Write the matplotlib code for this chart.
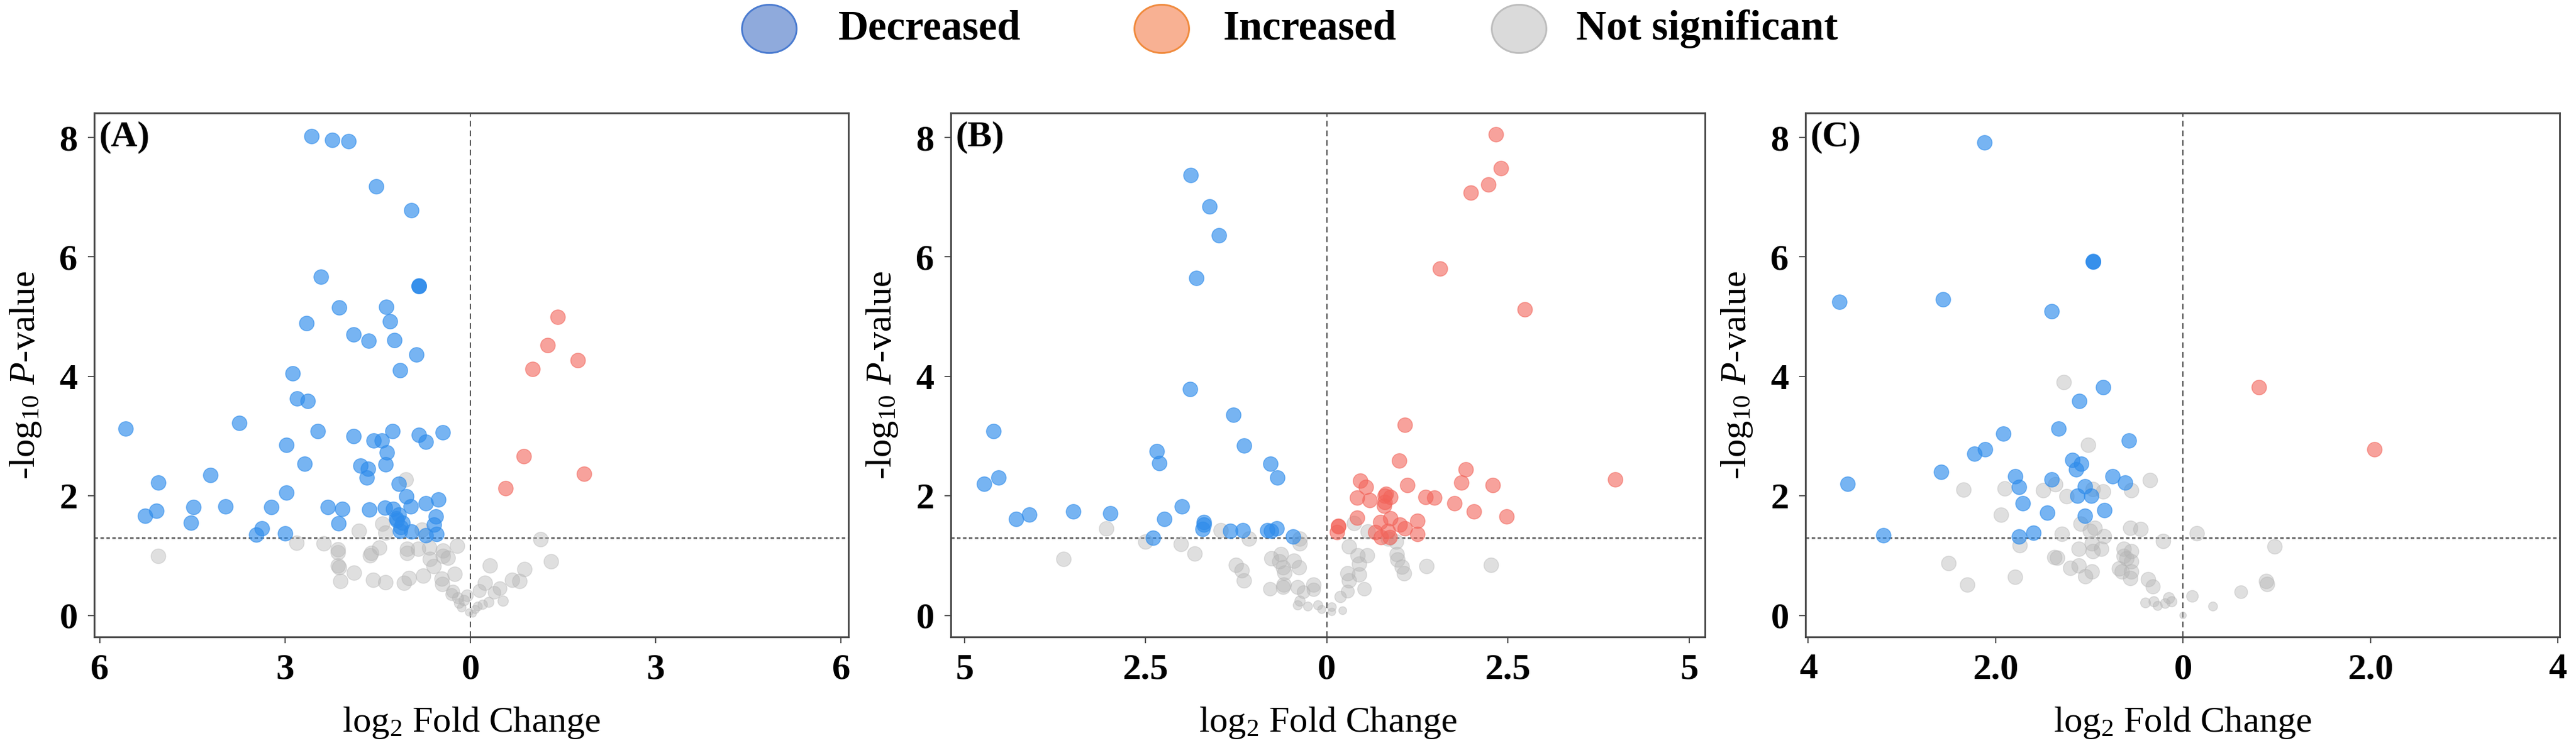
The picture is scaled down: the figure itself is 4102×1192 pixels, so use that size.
import numpy as np
import matplotlib
matplotlib.use("Agg")
import matplotlib.pyplot as plt
from matplotlib.patches import Ellipse

plt.rcParams['font.family'] = ['Liberation Serif', 'DejaVu Serif']
plt.rcParams['mathtext.fontset'] = 'custom'
plt.rcParams['mathtext.rm'] = 'Liberation Serif'
plt.rcParams['mathtext.it'] = 'Liberation Serif:italic'
plt.rcParams['mathtext.bf'] = 'Liberation Serif:bold'

# ---- data: (log2 fold change, -log10 p) ----
a_down = [(-2.57, 8.02), (-2.24, 7.96), (-1.97, 7.94), (-1.53, 7.18), (-0.96, 6.78), (-2.42, 5.67),
          (-0.83, 5.51), (-0.83, 5.51), (-0.83, 5.52), (-2.12, 5.15), (-1.36, 5.16), (-2.65, 4.89),
          (-1.30, 4.92), (-1.89, 4.70), (-1.65, 4.60), (-1.23, 4.61), (-0.87, 4.37), (-1.14, 4.10),
          (-2.88, 4.05), (-2.81, 3.63), (-2.63, 3.59), (-5.58, 3.13), (-3.74, 3.22), (-2.47, 3.08),
          (-1.89, 3.00), (-1.57, 2.93), (-1.43, 2.93), (-1.26, 3.08), (-0.83, 3.02), (-0.72, 2.91),
          (-0.45, 3.06), (-2.98, 2.85), (-1.35, 2.73), (-2.68, 2.54), (-1.78, 2.51), (-1.66, 2.46),
          (-1.37, 2.53), (-1.68, 2.31), (-4.21, 2.35), (-5.05, 2.22), (-1.16, 2.20), (-2.98, 2.06),
          (-1.04, 1.99), (-0.52, 1.94), (-0.72, 1.88), (-5.27, 1.67), (-5.08, 1.75), (-4.48, 1.81),
          (-4.52, 1.55), (-3.97, 1.82), (-3.22, 1.81), (-2.31, 1.81), (-2.07, 1.78), (-2.14, 1.54),
          (-1.64, 1.77), (-1.38, 1.80), (-1.25, 1.78), (-1.16, 1.69), (-1.19, 1.59), (-1.13, 1.48),
          (-0.97, 1.82), (-0.56, 1.66), (-0.59, 1.52), (-0.96, 1.40), (-3.38, 1.46), (-3.47, 1.35),
          (-3.00, 1.37), (-0.72, 1.34), (-0.55, 1.36), (-1.14, 1.42), (-1.20, 1.62), (-1.10, 1.55)]
a_up = [(1.41, 5.00), (1.25, 4.52), (1.74, 4.27), (1.01, 4.13), (0.86, 2.66), (1.84, 2.37), (0.57, 2.13)]
a_ns = [(-1.04, 2.27), (-5.05, 0.99), (-2.81, 1.21), (-2.37, 1.20), (-2.14, 1.10), (-2.14, 1.05),
        (-2.14, 0.83), (-2.12, 0.80), (-1.88, 0.71), (-2.10, 0.57), (-1.57, 0.59), (-1.37, 0.55),
        (-1.07, 0.54), (-0.99, 0.62), (-0.76, 0.66), (-1.60, 1.04), (-1.62, 1.00), (-1.47, 1.13),
        (-1.42, 1.53), (-1.80, 1.41), (-1.37, 1.38), (-1.02, 1.11), (-1.02, 1.04), (-0.84, 1.11),
        (-0.66, 1.13), (-0.78, 1.43), (-0.65, 0.94), (-0.59, 0.82), (-0.44, 1.08), (-0.44, 0.99),
        (-0.36, 0.96), (-0.21, 1.16), (-0.46, 0.61), (-0.45, 0.52), (-0.25, 0.69), (-0.28, 0.40),
        (-0.20, 0.29), (-0.14, 0.13), (-0.05, 0.33), (0.04, 0.03), (0.12, 0.15), (0.15, 0.41),
        (0.24, 0.54), (0.30, 0.22), (0.39, 0.38), (0.48, 0.45), (0.53, 0.24), (0.32, 0.83),
        (0.68, 0.59), (0.80, 0.57), (0.88, 0.77), (1.14, 1.27), (1.31, 0.90), (-0.18, 0.20),
        (0.08, 0.10), (-0.10, 0.25), (0.20, 0.18), (-0.30, 0.35), (-0.02, 0.05)]

b_down = [(-1.88, 7.37), (-1.62, 6.85), (-1.49, 6.36), (-1.80, 5.65), (-1.89, 3.79), (-1.29, 3.36),
          (-4.60, 3.08), (-1.14, 2.84), (-2.35, 2.75), (-2.31, 2.55), (-0.78, 2.54), (-0.68, 2.31),
          (-4.53, 2.31), (-4.73, 2.20), (-2.00, 1.82), (-3.50, 1.74), (-2.99, 1.71), (-4.11, 1.69),
          (-4.29, 1.61), (-2.24, 1.61), (-1.70, 1.56), (-1.71, 1.45), (-1.33, 1.41), (-1.16, 1.43),
          (-0.82, 1.43), (-0.69, 1.46), (-0.77, 1.42), (-0.47, 1.32), (-2.40, 1.30), (-1.70, 1.52)]
b_up = [(2.33, 8.05), (2.40, 7.49), (2.23, 7.21), (1.99, 7.08), (1.56, 5.81), (2.73, 5.12),
        (1.08, 3.19), (1.00, 2.59), (1.92, 2.44), (0.46, 2.26), (0.54, 2.15), (1.11, 2.18),
        (1.86, 2.22), (2.29, 2.18), (3.98, 2.28), (0.42, 1.97), (0.59, 1.93), (0.82, 2.03),
        (0.88, 1.98), (0.79, 1.84), (1.36, 1.98), (1.48, 1.97), (1.76, 1.88), (2.03, 1.74),
        (2.48, 1.66), (0.42, 1.64), (0.74, 1.56), (0.88, 1.62), (1.01, 1.52), (1.08, 1.46),
        (1.25, 1.58), (0.16, 1.49), (0.16, 1.50), (0.14, 1.39), (0.67, 1.39), (0.84, 1.42),
        (1.25, 1.36), (0.75, 1.31), (0.87, 1.31), (0.80, 1.90), (0.80, 2.00)]
b_ns = [(-3.04, 1.45), (-3.63, 0.94), (-2.50, 1.23), (-2.01, 1.19), (-1.82, 1.03), (-1.46, 1.42),
        (-1.07, 1.28), (-1.25, 0.84), (-1.17, 0.75), (-1.14, 0.58), (-0.76, 0.95), (-0.63, 1.02),
        (-0.65, 0.90), (-0.60, 0.80), (-0.58, 0.71), (-0.45, 0.91), (-0.38, 0.80), (-0.37, 1.28),
        (-0.37, 1.20), (-0.78, 0.44), (-0.59, 0.51), (-0.60, 0.47), (-0.40, 0.47), (-0.32, 0.39),
        (-0.18, 0.51), (-0.18, 0.43), (-0.37, 0.24), (-0.40, 0.17), (-0.26, 0.15), (-0.12, 0.17),
        (-0.07, 0.10), (0.07, 0.14), (0.07, 0.06), (0.22, 0.08), (0.19, 0.31), (0.29, 0.40),
        (0.31, 0.58), (0.29, 0.70), (0.45, 0.68), (0.45, 0.86), (0.43, 1.00), (0.56, 1.00),
        (0.31, 1.15), (0.38, 1.54), (0.57, 1.40), (0.52, 0.44), (0.97, 1.02), (0.98, 0.93),
        (0.96, 1.23), (1.04, 0.81), (1.07, 0.70), (1.38, 0.82), (2.27, 0.84), (0.85, 1.28)]

c_down = [(-2.12, 7.92), (-0.96, 5.92), (-0.96, 5.92), (-0.96, 5.93), (-3.67, 5.25), (-2.56, 5.29),
          (-1.40, 5.09), (-0.85, 3.82), (-1.11, 3.59), (-1.33, 3.13), (-1.92, 3.04), (-0.58, 2.93),
          (-2.11, 2.78), (-2.23, 2.71), (-1.18, 2.60), (-1.09, 2.54), (-1.14, 2.44), (-2.58, 2.40),
          (-0.75, 2.33), (-1.79, 2.33), (-1.40, 2.28), (-0.62, 2.22), (-3.58, 2.20), (-1.75, 2.15),
          (-1.05, 2.16), (-1.13, 2.00), (-0.98, 2.00), (-1.71, 1.88), (-0.84, 1.76), (-1.45, 1.72),
          (-1.05, 1.67), (-1.60, 1.38), (-1.75, 1.32), (-3.20, 1.34)]
c_up = [(0.81, 3.82), (2.04, 2.78)]
c_ns = [(-1.27, 3.90), (-1.01, 2.85), (-0.35, 2.26), (-2.34, 2.10), (-1.90, 2.12), (-1.49, 2.09),
        (-1.36, 2.19), (-1.24, 1.99), (-0.96, 2.11), (-0.85, 2.07), (-0.55, 2.09), (-1.94, 1.68),
        (-1.09, 1.53), (-0.99, 1.41), (-0.94, 1.46), (-0.56, 1.46), (-0.45, 1.44), (-1.29, 1.36),
        (-0.84, 1.32), (-0.21, 1.24), (0.15, 1.37), (0.98, 1.15), (-1.74, 1.17), (-1.11, 1.11),
        (-0.97, 1.20), (-0.96, 1.07), (-0.87, 1.11), (-0.63, 1.11), (-0.55, 1.07), (-0.63, 0.99),
        (-0.55, 0.90), (-0.60, 0.95), (-1.37, 0.97), (-1.34, 0.96), (-2.50, 0.87), (-1.20, 0.79),
        (-1.11, 0.83), (-0.97, 0.73), (-1.04, 0.65), (-0.68, 0.78), (-0.65, 0.73), (-0.55, 0.73),
        (-0.56, 0.62), (-1.79, 0.64), (-2.30, 0.51), (-0.37, 0.60), (-0.32, 0.48), (-0.40, 0.21),
        (-0.31, 0.23), (-0.27, 0.16), (-0.19, 0.20), (-0.15, 0.29), (-0.12, 0.23), (0.00, 0.00),
        (0.10, 0.32), (0.32, 0.15), (0.62, 0.39), (0.89, 0.57), (0.90, 0.52)]

panel_names = ['(A)', '(B)', '(C)']
x_ticks = [[-6, -3, 0, 3, 6], [-5, -2.5, 0, 2.5, 5], [-4, -2, 0, 2, 4]]
x_ticklabels = [['6', '3', '0', '3', '6'], ['5', '2.5', '0', '2.5', '5'], ['4', '2.0', '0', '2.0', '4']]
x_limits = [(-6.09, 6.12), (-5.19, 5.22), (-4.03, 4.02)]
y_ticks = [0, 2, 4, 6, 8]
p_cut = 1.3
legend_labels = ['Decreased', 'Increased', 'Not significant']

# ---- style ----
c_down_col = '#2F8CEB'
c_up_col = '#F2645A'
c_ns_col = '#B4B4B4'
leg_fill = ['#8FAADC', '#F8B193', '#DADADA']
leg_edge = ['#4A7BD0', '#F08A3C', '#BDBDBD']
base_s = 280

W, H = 4102, 1192
fig = plt.figure(figsize=(W / 100, H / 100), dpi=100)

ax_left = [150, 1514, 2875]
ax_w = 1201
ax_bottom, ax_top = 1015, 180

panels = [(a_down, a_up, a_ns), (b_down, b_up, b_ns), (c_down, c_up, c_ns)]

for i, (dn, up, ns) in enumerate(panels):
    ax = fig.add_axes([ax_left[i] / W, (H - ax_bottom) / H, ax_w / W, (ax_bottom - ax_top) / H])
    ns = np.array(ns)
    dn = np.array(dn)
    up = np.array(up)
    # grey dots shrink close to the origin
    f = np.clip(0.45 + 1.1 * ns[:, 1], 0.45, 1.0)
    ax.scatter(ns[:, 0], ns[:, 1], s=base_s * f ** 2, color=c_ns_col, alpha=0.42,
               edgecolors=c_ns_col, linewidths=1, zorder=2)
    ax.scatter(dn[:, 0], dn[:, 1], s=base_s, color=c_down_col, alpha=0.65,
               edgecolors=c_down_col, linewidths=1, zorder=3)
    ax.scatter(up[:, 0], up[:, 1], s=base_s, color=c_up_col, alpha=0.6,
               edgecolors=c_up_col, linewidths=1, zorder=3)

    ax.axvline(0, color='#444444', lw=1.3, ls=(0, (5, 3.5)), zorder=1)
    ax.axhline(p_cut, color='#666666', lw=2.0, ls=(0, (2, 1.4)), zorder=1)

    ax.set_xlim(*x_limits[i])
    ax.set_ylim(-0.36, 8.41)
    ax.set_xticks(x_ticks[i])
    ax.set_xticklabels(x_ticklabels[i])
    ax.set_yticks(y_ticks)
    ax.tick_params(axis='both', direction='out', length=7, width=1.3, color='#444444',
                   labelsize=42, pad=12)
    for lab in ax.get_xticklabels() + ax.get_yticklabels():
        lab.set_fontweight('bold')
    for sp in ax.spines.values():
        sp.set_color('#444444')
        sp.set_linewidth(2)

    ax.set_xlabel('log$_2$ Fold Change', fontsize=42, labelpad=22)
    ax.set_ylabel('-log$_{10}$ $P$-value', fontsize=42, labelpad=18)
    ax.text(0.006, 0.985, panel_names[i], transform=ax.transAxes, ha='left', va='top',
            fontsize=42, fontweight='bold')

# ---- legend across the top ----
leg_cx = [1225, 1850, 2419]
leg_tx = [1335, 1948, 2510]
leg_y = 46
for cx, tx, lab, fc, ec in zip(leg_cx, leg_tx, legend_labels, leg_fill, leg_edge):
    fig.add_artist(Ellipse((cx / W, 1 - leg_y / H), 87 / W, 77 / H, transform=fig.transFigure,
                           facecolor=fc, edgecolor=ec, lw=2))
    fig.text(tx / W, 1 - leg_y / H, lab, ha='left', va='center', fontsize=48, fontweight='bold')

fig.savefig('out.png', dpi=100)
